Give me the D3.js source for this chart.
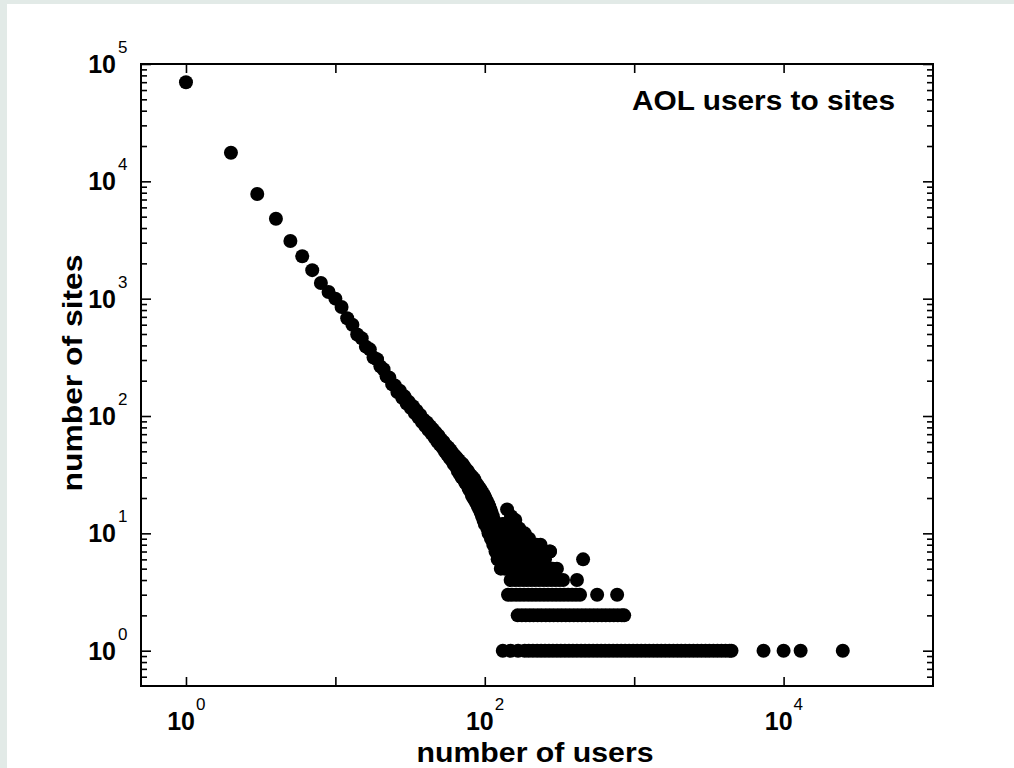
<!DOCTYPE html>
<html><head><meta charset="utf-8">
<script src="https://cdn.jsdelivr.net/npm/d3@7"></script>
<style>
html,body{margin:0;padding:0;background:#e2eae7;}
svg{display:block;}
text{font-family:"Liberation Sans",Arial,sans-serif;fill:#000;}
</style></head><body>
<svg id="chart" width="1014" height="768"></svg>
<script>
// ---- data: number of users (x) vs number of sites (y) ----
const headUsers = [1,2,3,4,5,6,7,8,9,10];
const headSites = [70000,17500,7800,4800,3100,2300,1750,1360,1140,1000];

const bandUsers = [11,12,13,14,15,16,17,18,19,20,21,22,23,24,25,26,27,28,29,30,
  31,32,33,34,35,36,37,38,39,40,41,42,43,44,45,46,47,48,49,50,
  51,52,53,54,55,56,57,58,59,60,61,62,63,64,65,66,67,68,69,70,
  71,72,73,74,75,76,77,78,79,80,81,82,83,84,85,86,87,88,89,90,
  91,92,93,94,95,96,97,98,99,100,101,102,103,104,105,106,107,108,109,110,
  111,112,113,114,115,116,117,118,119,120,121,122,123,124,125,126,127,128,129,130];
const bandSites = [850,680,600,495,460,390,370,315,305,265,250,218,212,186,182,160,164,143,147,128,
  132,117,121,106,111,97,102,89,93,82,88,76,82,71,77,66,72,61,68,57,
  63,54,60,50,56,47,54,44,51,42,48,39,46,37,44,34,42,32,40,30,
  39,29,37,27,35,26,34,24,32,23,31,21,30,20,29,19,27,18,26,17,
  25,16,24,15,23,14,22,13,21,12,20,12,19,11,18,10,17,10,16,9,
  15,9,14,8,13,8,12,7,12,7,11,6,10,7,9,6,11,5,9,6];

const scatterUsers = [141,160,185,273,150,137,170,198];
const scatterSites = [16,13,10,7,14,12,11,9];

const oneSiteUsers = [132,149,167,185,197,210,224,238,253,269,286,304,323,344,366,389,414,441,469,499,
  531,565,601,639,679,723,769,818,870,925,984,1047,1114,1186,1262,1343,1427,1517,1614,1718,
  1828,1945,2065,2198,2339,2489,2648,2818,2999,3184,3388,3606,3837,4083,4345,4480,
  7340,10000,13000,24900];
const twoSiteUsers = [166,177,188,200,212,226,240,256,272,289,308,327,348,370,394,419,446,474,504,536,
  570,607,645,686,730,776,826,857];
const threeSiteUsers = [143,152,162,172,183,195,207,220,234,249,265,282,300,319,339,361,384,408,434,565,769];
const fourSiteUsers = [149,159,169,180,191,203,216,230,245,260,277,295,314,334,414];
const fiveSiteUsers = [136,145,154,164,174,185,197,210,223,237,252,268,285,304];
const sixSiteUsers = [138,147,157,167,177,189,201,214,228,242,253,455];
const sevenSiteUsers = [132,140,150,159,170,181,192,205,218,232,273];
const eightSiteUsers = [134,143,152,162,172,183,195,208,222,236];
const nineSiteUsers = [131,140,150,160,171,182,194];
const tenSiteUsers = [135,146,157,168];
const elevenSiteUsers = [132,142,153];
const twelveSiteUsers = [131,139];

const xTickValues = [1,10,100,1000,10000];
const xLabelPowers = [0,2,4];
const yLabelPowers = [0,1,2,3,4,5];
const yMinorTicks = [0.6,0.7,0.8,0.9,
  2,3,4,5,6,7,8,9, 20,30,40,50,60,70,80,90,
  200,300,400,500,600,700,800,900, 2000,3000,4000,5000,6000,7000,8000,9000,
  20000,30000,40000,50000,60000,70000,80000,90000];

const titleText = "AOL users to sites";
const xAxisTitle = "number of users";
const yAxisTitle = "number of sites";

// ---- build point list ----
const points = [];
headUsers.forEach((u,i)=>points.push([u, headSites[i]]));
bandUsers.forEach((u,i)=>points.push([u, bandSites[i]]));
scatterUsers.forEach((u,i)=>points.push([u, scatterSites[i]]));
[[oneSiteUsers,1],[twoSiteUsers,2],[threeSiteUsers,3],[fourSiteUsers,4],[fiveSiteUsers,5],
 [sixSiteUsers,6],[sevenSiteUsers,7],[eightSiteUsers,8],[nineSiteUsers,9],[tenSiteUsers,10],
 [elevenSiteUsers,11],[twelveSiteUsers,12]]
 .forEach(([arr,s])=>arr.forEach(u=>points.push([u,s])));

// ---- layout ----
const svg = d3.select('#chart');
svg.append('rect').attr('x',7).attr('y',4).attr('width',1007).attr('height',764).attr('fill','#fff');

const L=141, R=933, T=64, B=686;
const x = d3.scaleLog().domain([0.5,1e5]).range([L,R]);
const y = d3.scaleLog().domain([0.5,1e5]).range([B,T]);

// points
svg.append('g').selectAll('circle').data(points).join('circle')
  .attr('cx',d=>x(d[0])).attr('cy',d=>y(d[1])).attr('r',7).attr('fill','#000');

// axes (ticks inward)
function styleAxis(g){
  g.select('.domain').remove();
  g.selectAll('.tick line').attr('stroke','#000').attr('stroke-width',1.6);
  g.selectAll('.tick text').remove();
}
svg.append('g').attr('transform',`translate(0,${B})`)
  .call(d3.axisBottom(x).tickValues(xTickValues).tickSize(-9)).call(styleAxis);
svg.append('g').attr('transform',`translate(0,${T})`)
  .call(d3.axisTop(x).tickValues(xTickValues).tickSize(-9)).call(styleAxis);
const yMajor = yLabelPowers.map(p=>Math.pow(10,p));
svg.append('g').attr('transform',`translate(${L},0)`)
  .call(d3.axisLeft(y).tickValues(yMajor).tickSize(-10)).call(styleAxis);
svg.append('g').attr('transform',`translate(${L},0)`)
  .call(d3.axisLeft(y).tickValues(yMinorTicks).tickSize(-6)).call(styleAxis);
svg.append('g').attr('transform',`translate(${R},0)`)
  .call(d3.axisRight(y).tickValues(yMajor).tickSize(-10)).call(styleAxis);
svg.append('g').attr('transform',`translate(${R},0)`)
  .call(d3.axisRight(y).tickValues(yMinorTicks).tickSize(-6)).call(styleAxis);

// frame
svg.append('rect').attr('x',L).attr('y',T).attr('width',R-L).attr('height',B-T)
  .attr('fill','none').attr('stroke','#000').attr('stroke-width',2);

// y tick labels
const yl = svg.append('g');
yLabelPowers.forEach(p=>{
  const v = Math.pow(10,p);
  yl.append('text').attr('x',116).attr('y',y(v)+9).attr('text-anchor','end')
    .attr('font-size',25).attr('font-weight','bold').text('10');
  yl.append('text').attr('x',118).attr('y',y(v)-11).attr('text-anchor','start')
    .attr('font-size',17).text(String(p));
});
// x tick labels
const xl = svg.append('g');
xLabelPowers.forEach(p=>{
  const v = Math.pow(10,p);
  xl.append('text').attr('x',x(v)+9).attr('y',730).attr('text-anchor','end')
    .attr('font-size',25).attr('font-weight','bold').text('10');
  xl.append('text').attr('x',x(v)+10).attr('y',710).attr('text-anchor','start')
    .attr('font-size',17).text(String(p));
});

// titles
svg.append('text').attr('x',632).attr('y',110).attr('font-size',27).attr('font-weight','bold')
  .attr('textLength',263).attr('lengthAdjust','spacingAndGlyphs').text(titleText);
svg.append('text').attr('x',535).attr('y',762).attr('text-anchor','middle')
  .attr('font-size',28).attr('font-weight','bold')
  .attr('textLength',237).attr('lengthAdjust','spacingAndGlyphs').text(xAxisTitle);
svg.append('text').attr('transform','translate(82,373) rotate(-90)').attr('text-anchor','middle')
  .attr('font-size',28).attr('font-weight','bold')
  .attr('textLength',237).attr('lengthAdjust','spacingAndGlyphs').text(yAxisTitle);
</script>
</body></html>
